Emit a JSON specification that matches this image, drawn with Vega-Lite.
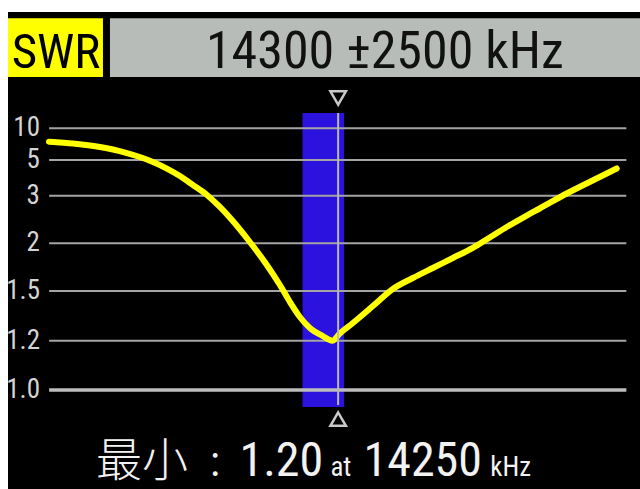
{
  "$schema": "https://vega.github.io/schema/vega-lite/v6.json",
  "width": 632,
  "height": 477,
  "autosize": {"type": "none"},
  "padding": {"left": 8, "top": 12, "right": 0, "bottom": 0},
  "background": "#ffffff",
  "config": {"view": {"stroke": null, "fill": "#000000"}, "axis": {"disable": true}},
  "datasets": {
    "sweep": [
      {"freq": 11867, "swr": 7.89}, {"freq": 11959, "swr": 7.76}, {"freq": 12069, "swr": 7.60},
      {"freq": 12212, "swr": 7.29}, {"freq": 12296, "swr": 7.05}, {"freq": 12405, "swr": 6.66},
      {"freq": 12523, "swr": 6.10}, {"freq": 12632, "swr": 5.47}, {"freq": 12742, "swr": 4.89},
      {"freq": 12859, "swr": 4.52}, {"freq": 12969, "swr": 4.10}, {"freq": 13078, "swr": 3.60},
      {"freq": 13196, "swr": 3.04}, {"freq": 13305, "swr": 2.763}, {"freq": 13414, "swr": 2.468},
      {"freq": 13557, "swr": 2.027}, {"freq": 13700, "swr": 1.773}, {"freq": 13810, "swr": 1.563},
      {"freq": 13894, "swr": 1.434}, {"freq": 13978, "swr": 1.343}, {"freq": 14062, "swr": 1.277},
      {"freq": 14171, "swr": 1.228}, {"freq": 14250, "swr": 1.20}, {"freq": 14314, "swr": 1.243},
      {"freq": 14424, "swr": 1.307}, {"freq": 14592, "swr": 1.409}, {"freq": 14760, "swr": 1.521},
      {"freq": 14928, "swr": 1.636}, {"freq": 15096, "swr": 1.741}, {"freq": 15265, "swr": 1.846},
      {"freq": 15433, "swr": 1.951}, {"freq": 15576, "swr": 2.122}, {"freq": 15719, "swr": 2.342},
      {"freq": 15887, "swr": 2.584}, {"freq": 15996, "swr": 2.731}, {"freq": 16223, "swr": 3.123},
      {"freq": 16501, "swr": 4.048}, {"freq": 16644, "swr": 4.524}
    ],
    "ticks": [
      {"swr": 1.0, "label": "1.0"}, {"swr": 1.2, "label": "1.2"}, {"swr": 1.5, "label": "1.5"},
      {"swr": 2, "label": "2"}, {"swr": 3, "label": "3"}, {"swr": 5, "label": "5"}, {"swr": 10, "label": "10"}
    ],
    "one": [{}]
  },
  "layer": [
    {
      "data": {"name": "one"},
      "mark": {"type": "rect", "color": "#2b12de"},
      "encoding": {
        "x": {"datum": 14000, "type": "quantitative", "scale": {"domain": [11522, 16840], "nice": false, "zero": false}},
        "x2": {"datum": 14350},
        "y": {"datum": 12.41, "type": "quantitative", "scale": {"domain": [1, 1.2, 1.5, 2, 3, 5, 10], "range": [378, 328.7, 279, 231.3, 183.7, 148, 116.3], "nice": false, "zero": false}},
        "y2": {"datum": 0.931}
      }
    },
    {
      "data": {"name": "ticks"},
      "transform": [{"filter": "datum.swr > 1"}],
      "mark": {"type": "rule", "color": "#a4a4a4", "strokeWidth": 2},
      "encoding": {
        "x": {"datum": 11868, "type": "quantitative"},
        "x2": {"datum": 16725},
        "y": {"field": "swr", "type": "quantitative"}
      }
    },
    {
      "data": {"name": "ticks"},
      "transform": [{"filter": "datum.swr == 1"}],
      "mark": {"type": "rule", "color": "#bcbcbc", "strokeWidth": 3.5},
      "encoding": {
        "x": {"datum": 11868, "type": "quantitative"},
        "x2": {"datum": 16725},
        "y": {"field": "swr", "type": "quantitative"}
      }
    },
    {
      "data": {"name": "sweep"},
      "mark": {"type": "line", "color": "#ffff00", "strokeWidth": 6, "interpolate": "monotone", "strokeCap": "round", "strokeJoin": "round"},
      "encoding": {
        "x": {"field": "freq", "type": "quantitative"},
        "y": {"field": "swr", "type": "quantitative"}
      }
    },
    {
      "data": {"name": "one"},
      "mark": {"type": "rule", "color": "#b8b8b8", "strokeWidth": 2},
      "encoding": {
        "x": {"datum": 14300, "type": "quantitative"},
        "y": {"datum": 12.41, "type": "quantitative"},
        "y2": {"datum": 0.939}
      }
    },
    {
      "data": {"name": "ticks"},
      "mark": {"type": "text", "align": "right", "baseline": "middle", "color": "#d4d4d4", "font": "Roboto Condensed, DejaVu Sans Condensed, Roboto", "fontSize": 27},
      "encoding": {
        "x": {"datum": 11791, "type": "quantitative"},
        "y": {"field": "swr", "type": "quantitative"},
        "text": {"field": "label"}
      }
    },
    {
      "data": {"name": "one"},
      "mark": {"type": "point", "shape": "triangle-down", "filled": false, "color": "#c8c8c8", "strokeWidth": 2.5, "size": 240, "opacity": 1},
      "encoding": {
        "x": {"datum": 14300, "type": "quantitative"},
        "y": {"datum": 14.78, "type": "quantitative"}
      }
    },
    {
      "data": {"name": "one"},
      "mark": {"type": "point", "shape": "triangle-up", "filled": false, "color": "#c8c8c8", "strokeWidth": 2.5, "size": 240, "opacity": 1},
      "encoding": {
        "x": {"datum": 14300, "type": "quantitative"},
        "y": {"datum": 0.882, "type": "quantitative"}
      }
    },
    {
      "data": {"name": "one"},
      "mark": {"type": "rect", "color": "#ffff00"},
      "encoding": {
        "x": {"datum": 11522, "type": "quantitative"},
        "x2": {"datum": 12321},
        "y": {"datum": 27.35, "type": "quantitative"},
        "y2": {"datum": 18.09}
      }
    },
    {
      "data": {"name": "one"},
      "mark": {"type": "rect", "color": "#b8bcb8"},
      "encoding": {
        "x": {"datum": 12380, "type": "quantitative"},
        "x2": {"datum": 16840},
        "y": {"datum": 27.35, "type": "quantitative"},
        "y2": {"datum": 18.09}
      }
    },
    {
      "data": {"name": "one"},
      "mark": {"type": "text", "text": "SWR", "align": "center", "baseline": "alphabetic", "color": "#000000", "font": "Roboto Condensed, DejaVu Sans Condensed, Roboto", "fontSize": 49},
      "encoding": {
        "x": {"datum": 11926, "type": "quantitative"},
        "y": {"datum": 19.51, "type": "quantitative"}
      }
    },
    {
      "data": {"name": "one"},
      "mark": {"type": "text", "text": "14300 ±2500 kHz", "align": "center", "baseline": "alphabetic", "color": "#111111", "font": "Roboto Condensed, DejaVu Sans Condensed, Roboto", "fontSize": 52},
      "encoding": {
        "x": {"datum": 14693, "type": "quantitative"},
        "y": {"datum": 19.51, "type": "quantitative"}
      }
    },
    {
      "data": {"name": "one"},
      "mark": {"type": "text", "text": "最小", "align": "left", "baseline": "alphabetic", "color": "#f2f2f2", "font": "Noto Sans CJK SC", "fontWeight": 300, "fontSize": 46},
      "encoding": {
        "x": {"datum": 12262, "type": "quantitative"},
        "y": {"datum": 0.652, "type": "quantitative"}
      }
    },
    {
      "data": {"name": "one"},
      "mark": {"type": "text", "text": ":", "align": "center", "baseline": "alphabetic", "color": "#f2f2f2", "font": "Roboto Condensed, DejaVu Sans Condensed, Roboto", "fontSize": 42},
      "encoding": {
        "x": {"datum": 13263, "type": "quantitative"},
        "y": {"datum": 0.652, "type": "quantitative"}
      }
    },
    {
      "data": {"name": "one"},
      "mark": {"type": "text", "text": "1.20", "align": "center", "baseline": "alphabetic", "color": "#f2f2f2", "font": "Roboto Condensed, DejaVu Sans Condensed, Roboto", "fontSize": 48},
      "encoding": {
        "x": {"datum": 13822, "type": "quantitative"},
        "y": {"datum": 0.652, "type": "quantitative"}
      }
    },
    {
      "data": {"name": "one"},
      "mark": {"type": "text", "text": "at", "align": "center", "baseline": "alphabetic", "color": "#f2f2f2", "font": "Roboto Condensed, DejaVu Sans Condensed, Roboto", "fontSize": 27},
      "encoding": {
        "x": {"datum": 14323, "type": "quantitative"},
        "y": {"datum": 0.652, "type": "quantitative"}
      }
    },
    {
      "data": {"name": "one"},
      "mark": {"type": "text", "text": "14250", "align": "center", "baseline": "alphabetic", "color": "#f2f2f2", "font": "Roboto Condensed, DejaVu Sans Condensed, Roboto", "fontSize": 48},
      "encoding": {
        "x": {"datum": 15012, "type": "quantitative"},
        "y": {"datum": 0.652, "type": "quantitative"}
      }
    },
    {
      "data": {"name": "one"},
      "mark": {"type": "text", "text": "kHz", "align": "center", "baseline": "alphabetic", "color": "#f2f2f2", "font": "Roboto Condensed, DejaVu Sans Condensed, Roboto", "fontSize": 27},
      "encoding": {
        "x": {"datum": 15752, "type": "quantitative"},
        "y": {"datum": 0.652, "type": "quantitative"}
      }
    }
  ]
}
